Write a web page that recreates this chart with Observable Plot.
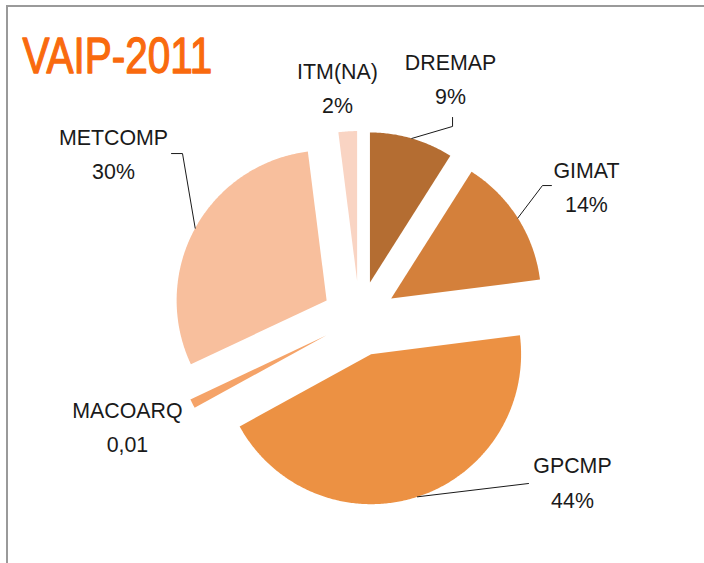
<!DOCTYPE html>
<html><head><meta charset="utf-8">
<script src="https://cdn.jsdelivr.net/npm/d3@7"></script>
<script src="https://cdn.jsdelivr.net/npm/@observablehq/plot@0.6"></script>
<style>
html,body{margin:0;padding:0;background:#fff;overflow:hidden;}
#wrap{position:relative;width:704px;height:563px;overflow:hidden;}
#frame{position:absolute;left:6px;top:5px;width:800px;height:800px;border-left:2px solid #9a9a9a;border-top:2px solid #9a9a9a;}
#chart{position:absolute;left:0;top:0;}
</style></head><body>
<div id="wrap"><div id="frame"></div><div id="chart"></div></div>
<script>
// ---- data ----
const title = "VAIP-2011";
const categories = ["DREMAP", "GIMAT", "GPCMP", "MACOARQ", "METCOMP", "ITM(NA)"];
const percents = [9, 14, 44, 1, 30, 2];
const valueLabels = ["9%", "14%", "44%", "0,01", "30%", "2%"];

// ---- style / layout ----
const colors = ["#B46D32", "#D4803B", "#EC9143", "#F5A368", "#F8BF9D", "#F9D4C3"];
const W = 704, H = 563, CX = 359, CY = 318, R = 150, EXPLODE = 0.25;
const FONT = "'Liberation Sans', Arial, sans-serif";
// label anchor (baseline of last line), in pie-radius units from pie centre (y up)
const labelAt = {
  "DREMAP": [0.607, 1.427],
  "GIMAT": [1.513, 0.713],
  "GPCMP": [1.420, -1.260],
  "MACOARQ": [-1.547, -0.893],
  "METCOMP": [-1.640, 0.933],
  "ITM(NA)": [-0.147, 1.373]
};
// leader bends, in pixels relative to label anchor (y down)
const leaderBends = {
  "DREMAP": [[2, 22], [2, 13]],
  "GIMAT": [[-44, -26], [-35, -26]],
  "METCOMP": [[69, -25], [58, -25]],
  "GPCMP": [[-44, -24]]
};

const arcs = d3.pie().sort(null).value(d => d)(percents);
const slicePts = [];
const leaderPts = [];
arcs.forEach((a, i) => {
  const cat = categories[i];
  const mid = (a.startAngle + a.endAngle) / 2;
  const ox = EXPLODE * Math.sin(mid), oy = EXPLODE * Math.cos(mid);
  const n = Math.max(4, Math.ceil((a.endAngle - a.startAngle) / 0.01));
  slicePts.push({cat, x: ox, y: oy});
  for (let k = 0; k <= n; k++) {
    const t = a.startAngle + (a.endAngle - a.startAngle) * k / n;
    slicePts.push({cat, x: ox + Math.sin(t), y: oy + Math.cos(t)});
  }
  if (leaderBends[cat]) {
    const la = labelAt[cat];
    leaderPts.push({cat, x: ox + Math.sin(mid), y: oy + Math.cos(mid)});
    for (const [dx, dy] of leaderBends[cat]) {
      leaderPts.push({cat, x: la[0] + dx / R, y: la[1] - dy / R});
    }
  }
});
const labels = categories.map((c, i) => ({
  cat: c, x: labelAt[c][0], y: labelAt[c][1], text: c + "\n" + valueLabels[i]
}));

const chart = Plot.plot({
  width: W, height: H, margin: 0,
  x: {domain: [-CX / R, (W - CX) / R], range: [0, W], axis: null},
  y: {domain: [(CY - H) / R, CY / R], range: [H, 0], axis: null},
  color: {domain: categories, range: colors},
  style: {background: "transparent"},
  marks: [
    Plot.line(slicePts, {x: "x", y: "y", z: "cat", fill: "cat", stroke: null, curve: "linear-closed"}),
    Plot.line(leaderPts, {x: "x", y: "y", z: "cat", stroke: "#1a1a1a", strokeWidth: 1}),
    Plot.text(labels, {x: "x", y: "y", text: "text", lineAnchor: "bottom", lineHeight: 1.48,
      fontSize: 23, fontFamily: FONT, fill: "#1a1a1a", textAnchor: "middle", className: "lbl"}),
    Plot.text([title], {frameAnchor: "top-left", dx: 22, dy: 72, lineAnchor: "bottom", textAnchor: "start",
      fontSize: 50, fontFamily: FONT, fill: "#F96A0E", stroke: "#F96A0E", strokeWidth: 1.3, className: "ttl"})
  ]
});
// emulate a narrow typeface by condensing glyphs horizontally
function condense(sel, k) {
  d3.select(chart).selectAll(sel).each(function() {
    const t = this.getAttribute("transform") || "";
    this.setAttribute("transform", (t + ` scale(${k},1)`).trim());
  });
}
condense(".lbl text", 0.93);
condense(".ttl text", 0.81);
document.getElementById("chart").appendChild(chart);
</script>
</body></html>
